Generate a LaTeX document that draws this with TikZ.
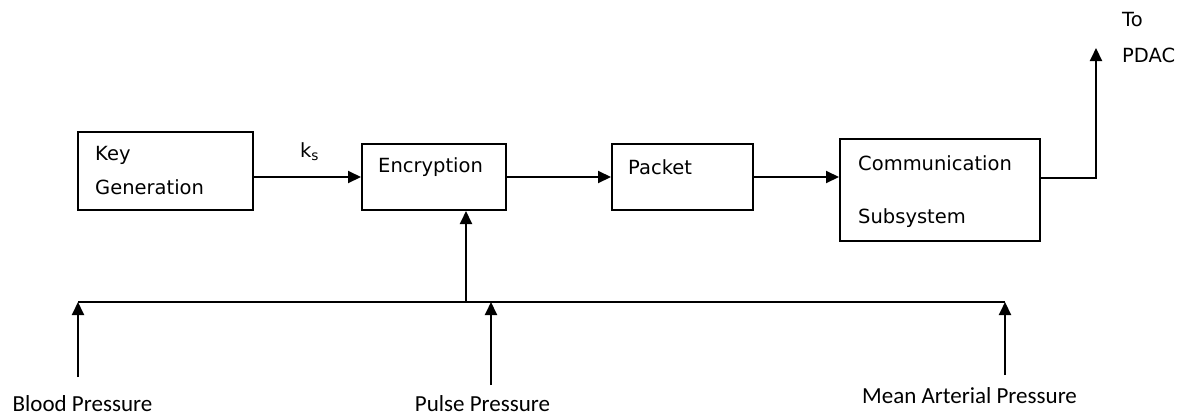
\documentclass[tikz,border=0pt]{standalone}
\usepackage{fontspec}
\setmainfont{DejaVu Sans}
\newfontfamily\labelfont{Carlito}
\usetikzlibrary{arrows.meta}

\tikzset{
  block/.style={draw, line width=2pt, inner sep=0pt},
  txt/.style={anchor=west, inner sep=0pt, font=\fontsize{19.5}{20}\selectfont},
  wire/.style={line width=2pt},
  sig/.style={wire, -{Triangle[length=13pt,width=12pt]}},
  inlabel/.style={inner sep=0pt, font=\labelfont\fontsize{23}{24}\selectfont}
}

\begin{document}
\begin{tikzpicture}[x=1pt,y=-1pt]
  \useasboundingbox (0,0) rectangle (1182,418);

  % Blocks
  \node [block, minimum width=175pt, minimum height=78pt] (keygen) at (165.5,171) {};
  \node [block, minimum width=144pt, minimum height=66pt] (enc) at (434,177) {};
  \node [block, minimum width=141pt, minimum height=66pt] (packet) at (682.5,177) {};
  \node [block, minimum width=200pt, minimum height=102pt] (comm) at (940,190) {};

  % Block texts
  \node [txt] (keytxt) at (95,155) {Key};
  \node [txt] (gentxt) at (95,187) {Generation};
  \node [txt] (enctxt) at (378,167) {Encryption};
  \node [txt] (pkttxt) at (628,167) {Packet};
  \node [txt] (comtxt) at (858,163) {Communication};
  \node [txt] (subtxt) at (858,218) {Subsystem};
  \node [txt] (totxt) at (1122,20) {To};
  \node [txt] (pdactxt) at (1122,55) {PDAC};
  \node [txt] (ks) at (300,152) {k\textsubscript{s}};

  % Chain
  \draw [sig] (keygen.east |- enc.west) -- (enc.west);
  \draw [sig] (enc.east) -- (packet.west);
  \draw [sig] (packet.east) -- (packet.east -| comm.west);
  \coordinate (out) at (1096,48);
  \draw [sig] ([yshift=12pt]comm.east) -| (out);

  % Bus
  \coordinate (busl) at (78,302);
  \coordinate (busr) at (1005,302);
  \coordinate (tap) at (466,302);
  \draw [wire] (busl) -- (busr);
  \draw [sig] (tap) -- (tap |- enc.south);

  % Inputs
  \coordinate (bp) at (78,377);
  \coordinate (pp) at (491,385);
  \coordinate (map) at (1005,375);
  \draw [sig] (bp) -- (busl);
  \draw [sig] (pp) -- (pp |- busl);
  \draw [sig] (map) -- (busr);
  \node [inlabel] (bplbl) at (82.5,404) {Blood Pressure};
  \node [inlabel] (pplbl) at (482.5,404) {Pulse Pressure};
  \node [inlabel] (maplbl) at (969.5,396) {Mean Arterial Pressure};
\end{tikzpicture}
\end{document}
